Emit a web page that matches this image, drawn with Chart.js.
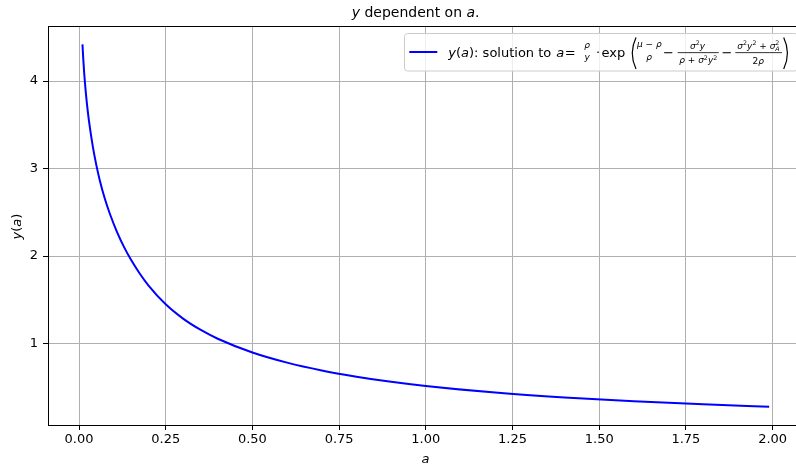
<!DOCTYPE html>
<html lang="en">
<head>
<meta charset="UTF-8">
<title>y dependent on a</title>
<script src="https://cdn.jsdelivr.net/npm/chart.js"></script>
<style>
  html, body { margin: 0; padding: 0; background: #fff; overflow: hidden; }
  #wrap { width: 796px; height: 465px; }
</style>
</head>
<body>
<div id="wrap"><canvas id="chart" width="796" height="465"></canvas></div>
<script>
// values
const aValues = [0.01, 0.0125, 0.015, 0.02, 0.025, 0.03, 0.04, 0.05, 0.06, 0.075, 0.09, 0.11, 0.13, 0.15, 0.175, 0.2, 0.25, 0.3, 0.35, 0.4, 0.5, 0.6, 0.7, 0.8, 0.9, 1.0, 1.2, 1.4, 1.6, 1.8, 1.99];
const yValues = [4.42, 4.24, 4.09, 3.855, 3.666, 3.507, 3.248, 3.04, 2.865, 2.649, 2.472, 2.271, 2.102, 1.957, 1.801, 1.666, 1.448, 1.285, 1.158, 1.055, 0.898, 0.782, 0.692, 0.621, 0.562, 0.514, 0.439, 0.383, 0.340, 0.305, 0.278];
const xTicks = [0, 0.25, 0.5, 0.75, 1.0, 1.25, 1.5, 1.75, 2.0];
const yTicks = [1, 2, 3, 4];
const xRange = [-0.0894, 2.0674];
const yRange = [0.0687, 4.630];

const FONT = '"DejaVu Sans", sans-serif';

function fontOf(p) {
  return (p.i ? 'italic ' : '') + p.s + 'px ' + FONT;
}

function runWidth(ctx, parts) {
  let w = 0;
  for (const p of parts) {
    ctx.font = fontOf(p);
    if (!p.keep) w += ctx.measureText(p.t).width;
  }
  return w;
}

function drawRun(ctx, x, base, parts) {
  for (const p of parts) {
    ctx.font = fontOf(p);
    ctx.fillText(p.t, x, base + (p.dy || 0));
    if (!p.keep) x += ctx.measureText(p.t).width;
  }
  return x;
}

function drawCentered(ctx, cx, base, parts) {
  const w = runWidth(ctx, parts);
  drawRun(ctx, cx - w / 2, base, parts);
}

function bigParen(ctx, x0, x1, top, bottom) {
  // x0 = tip end, x1 = bulge
  ctx.beginPath();
  ctx.moveTo(x0, top);
  ctx.quadraticCurveTo(x1, (top + bottom) / 2, x0, bottom);
  ctx.stroke();
}

const sup = t => ({ t: t, s: 6.3, dy: -3.5 });
const it9 = t => ({ t: t, s: 9, i: true });
const n9 = t => ({ t: t, s: 9 });

const annotate = {
  id: 'annotate',
  afterDraw(chart) {
    const ctx = chart.ctx;
    const { left, right, top } = chart.chartArea;
    ctx.save();

    // top spine
    ctx.strokeStyle = '#000';
    ctx.lineWidth = 1;
    ctx.beginPath();
    ctx.moveTo(left, Math.round(top) + 0.5);
    ctx.lineTo(right, Math.round(top) + 0.5);
    ctx.stroke();

    ctx.fillStyle = '#000';
    ctx.textBaseline = 'alphabetic';
    ctx.textAlign = 'left';

    // title
    drawRun(ctx, 351.7, 17.3, [
      { t: 'y', s: 14, i: true },
      { t: ' dependent on ', s: 14 },
      { t: 'a', s: 14, i: true },
      { t: '.', s: 14 }
    ]);

    // x axis label
    ctx.textAlign = 'center';
    ctx.font = 'italic 13px ' + FONT;
    ctx.fillText('a', 425.5, 462.5);
    ctx.textAlign = 'left';

    // y axis label
    ctx.save();
    ctx.translate(20.5, 226.5);
    ctx.rotate(-Math.PI / 2);
    drawCentered(ctx, 0, 0, [
      { t: 'y', s: 13, i: true }, { t: '(', s: 13 }, { t: 'a', s: 13, i: true }, { t: ')', s: 13 }
    ]);
    ctx.restore();

    // legend box
    ctx.beginPath();
    ctx.roundRect(404.5, 33.5, 393, 37.5, 3);
    ctx.fillStyle = 'rgba(255,255,255,0.8)';
    ctx.fill();
    ctx.strokeStyle = '#cccccc';
    ctx.stroke();

    // legend handle
    ctx.strokeStyle = '#0000ff';
    ctx.lineWidth = 2;
    ctx.beginPath();
    ctx.moveTo(409.3, 52);
    ctx.lineTo(437.3, 52);
    ctx.stroke();

    // legend text
    ctx.fillStyle = '#000';
    drawRun(ctx, 448.3, 57, [
      { t: 'y', s: 13, i: true }, { t: '(', s: 13 }, { t: 'a', s: 13, i: true }, { t: '): solution to', s: 13 }
    ]);
    drawRun(ctx, 556.3, 57, [{ t: 'a', s: 13, i: true }]);
    drawRun(ctx, 564.8, 57, [{ t: '=', s: 13 }]);
    drawCentered(ctx, 587.2, 47.5, [it9('ρ')]);
    drawCentered(ctx, 587.2, 60, [it9('y')]);
    drawCentered(ctx, 598, 57, [{ t: '·', s: 13 }]);
    drawRun(ctx, 601.5, 57, [{ t: 'exp', s: 13 }]);

    ctx.strokeStyle = '#000';
    ctx.lineWidth = 1.2;
    bigParen(ctx, 636, 628.5, 37.5, 69);
    bigParen(ctx, 783.7, 791.2, 37.5, 69);

    // (mu - rho) / rho
    drawCentered(ctx, 649.3, 47, [it9('μ'), n9(' − '), it9('ρ')]);
    drawCentered(ctx, 649, 60, [it9('ρ')]);

    drawRun(ctx, 663, 56.5, [{ t: '−', s: 13 }]);

    // sigma^2 y / (rho + sigma^2 y^2)
    drawCentered(ctx, 697.6, 48.5, [it9('σ'), sup('2'), it9('y')]);
    drawCentered(ctx, 698.2, 63, [it9('ρ'), n9(' + '), it9('σ'), sup('2'), it9('y'), sup('2')]);
    ctx.fillRect(677.7, 52.3, 41, 0.8);

    drawRun(ctx, 721.4, 56.5, [{ t: '−', s: 13 }]);

    // (sigma^2 y^2 + sigma_A^2) / (2 rho)
    drawCentered(ctx, 758.5, 48.5, [
      it9('σ'), sup('2'), it9('y'), sup('2'), n9(' + '), it9('σ'),
      { t: '2', s: 6.3, dy: -3.5, keep: true }, { t: 'A', s: 6.3, i: true, dy: 2 }
    ]);
    drawCentered(ctx, 758.2, 63.5, [n9('2'), it9('ρ')]);
    ctx.fillRect(735.3, 52.3, 46.7, 0.8);

    ctx.restore();
  }
};

const tickFont = { family: FONT, size: 13 };

new Chart(document.getElementById('chart'), {
  type: 'line',
  data: {
    datasets: [{
      label: 'y(a)',
      data: aValues.map((a, i) => ({ x: a, y: yValues[i] })),
      borderColor: '#0000ff',
      borderWidth: 2,
      pointRadius: 0,
      fill: false,
      cubicInterpolationMode: 'monotone'
    }]
  },
  options: {
    responsive: false,
    animation: false,
    devicePixelRatio: 1,
    events: [],
    layout: { padding: { top: 26, left: 0, right: 0, bottom: 0 } },
    plugins: {
      legend: { display: false },
      title: { display: false },
      tooltip: { enabled: false }
    },
    scales: {
      x: {
        type: 'linear',
        min: xRange[0],
        max: xRange[1],
        afterBuildTicks: s => { s.ticks = xTicks.map(v => ({ value: v })); },
        afterFit: s => { s.height = 40; },
        ticks: {
          font: tickFont,
          color: '#000',
          padding: 2,
          maxRotation: 0,
          autoSkip: false,
          callback: v => Number(v).toFixed(2)
        },
        grid: { color: '#b0b0b0', lineWidth: 1, tickLength: 5, tickColor: '#000', tickWidth: 1 },
        border: { color: '#000', width: 1 }
      },
      y: {
        type: 'linear',
        min: yRange[0],
        max: yRange[1],
        afterBuildTicks: s => { s.ticks = yTicks.map(v => ({ value: v })); },
        afterFit: s => { s.width = 48; },
        ticks: {
          font: tickFont,
          color: '#000',
          padding: 5,
          autoSkip: false,
          callback: v => String(v)
        },
        grid: { color: '#b0b0b0', lineWidth: 1, tickLength: 5, tickColor: '#000', tickWidth: 1 },
        border: { color: '#000', width: 1 }
      }
    }
  },
  plugins: [annotate]
});
</script>
</body>
</html>
